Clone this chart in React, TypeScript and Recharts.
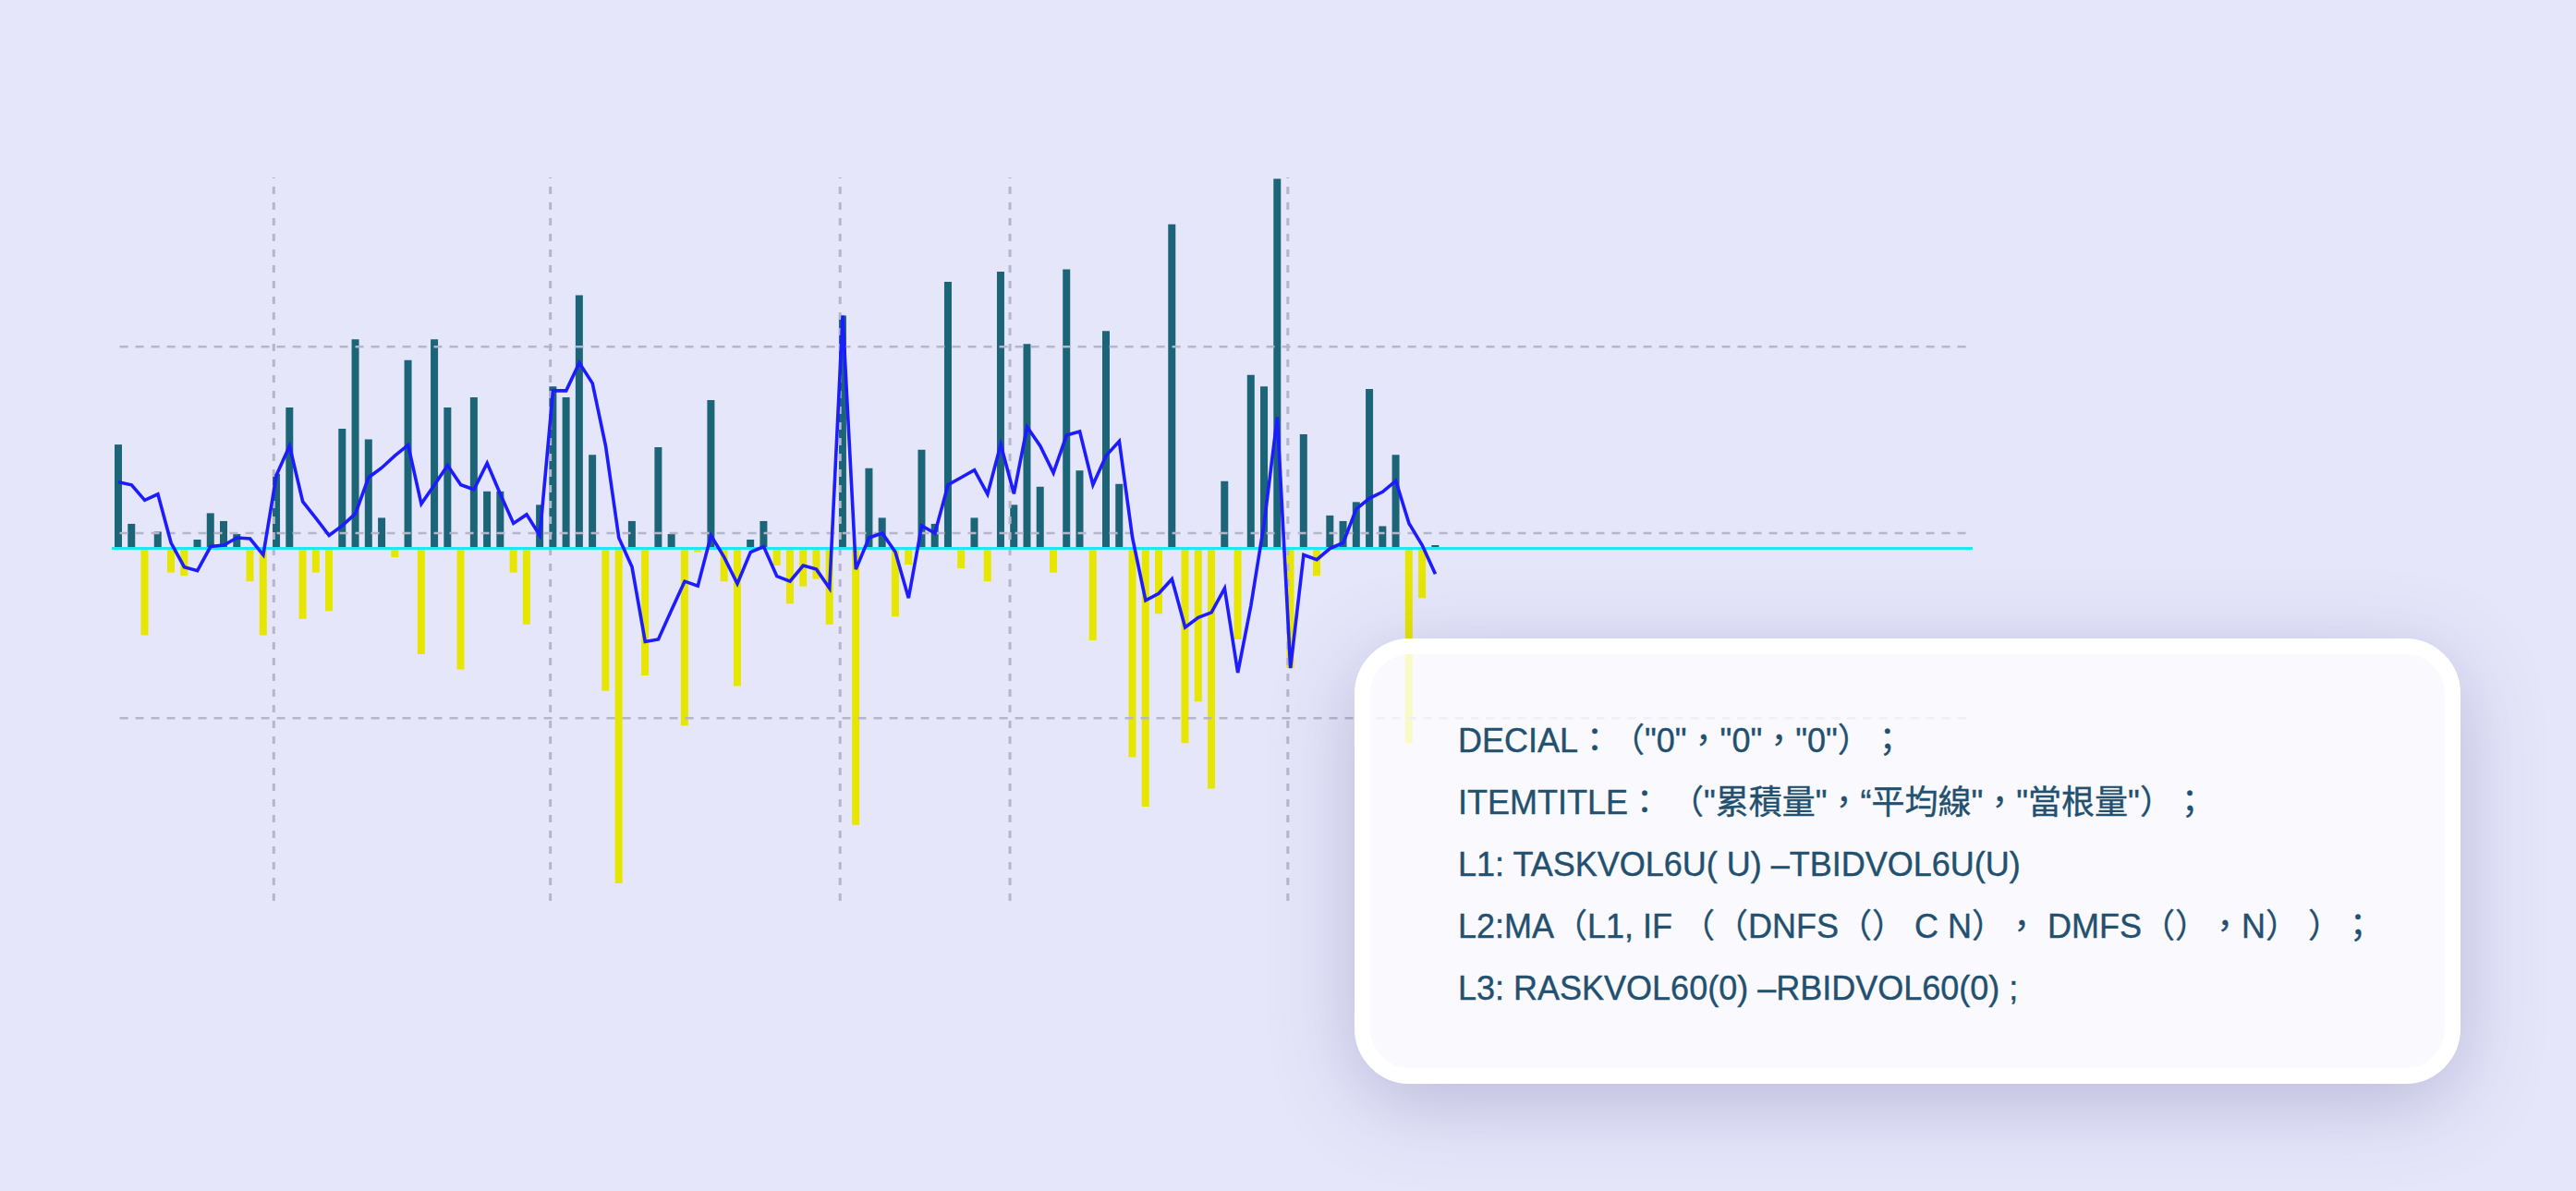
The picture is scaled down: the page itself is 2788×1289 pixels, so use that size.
import React from 'react';
import { ComposedChart, Bar, Line, XAxis, YAxis, ReferenceLine, Cell } from 'recharts';

// L3 當根量 (bar values, per slot)
const VOL: number[] = [
  224, 53, -187, 36, -52, -59, 19, 76, 59, 31,
  -71, -187, 161, 304, -152, -52, -135, 258, 451, 235,
  66, -19, 406, -228, 451, 304, -261, 326, 123, 123,
  -52, -164, 94, 349, 326, 546, 202, -307, -722, 59,
  -274, 218, 31, -382, -8, 320, -71, -297, 19, 59,
  -37, -119, -82, -66, -164, 502, -596, 173, 66, -147,
  -35, 213, 53, 575, -43, 66, -71, 597, 94, 441,
  133, -52, 602, 168, -198, 469, 139, -450, -557, -141,
  699, -420, -330, -518, 145, -196, 374, 349, 797, -258,
  246, -59, 71, 59, 100, 344, 48, 202, -420, -107,
  7,
];

// L2 平均線 (moving average line)
const MA: number[] = [
  143, 137, 104, 117, 12, -40, -48, 4, 7, 23,
  21, -14, 158, 221, 101, 65, 28, 49, 75, 153,
  174, 200, 223, 96, 137, 179, 137, 127, 184, 117,
  54, 73, 28, 340, 340, 400, 356, 221, 23, -40,
  -201, -196, -133, -71, -81, 28, -19, -76, -8, 4,
  -60, -71, -37, -45, -86, 502, -45, 23, 33, -8,
  -107, 49, 33, 137, 153, 169, 117, 224, 118, 262,
  221, 163, 244, 252, 137, 200, 231, 23, -112, -97,
  -66, -170, -149, -138, -86, -268, -123, 54, 283, -258,
  -14, -24, 0, 12, 85, 108, 122, 146, 54, 7,
  -55,
];

const X_DOMAIN: [number, number] = [-0.5, 140.8];
const Y_DOMAIN: [number, number] = [-760, 800];
const H_GRID: number[] = [435, 33, -366];
const H_GRID_SPAN: [number, number] = [0.1, 140.8];
const V_GRID: number[] = [11.8, 32.8, 54.8, 67.7, 88.8];

const FORMULA_LINES: string[] = [
  'DECIAL：（"0"，"0"，"0"）；',
  'ITEMTITLE： （"累積量"，“平均線"，"當根量"）；',
  'L1: TASKVOL6U( U) –TBIDVOL6U(U)',
  'L2:MA（L1, IF （（DNFS（） C N）， DMFS（），N） ）；',
  'L3: RASKVOL60(0) –RBIDVOL60(0) ;',
];

const TEAL = '#1b6577';
const YELLOW = '#e6e600';
const BLUE = '#1c1cff';
const CYAN = '#1ee6f2';
const GRID = '#b6b6cb';
const TEXT = '#23506f';

const data = VOL.map((v, i) => ({ i, vol: v, ma: MA[i] }));

export default function App() {
  return (
    <div
      style={{
        position: 'absolute',
        left: 0,
        top: 0,
        width: 2788,
        height: 1289,
        background: '#e6e6fa',
        overflow: 'hidden',
      }}
    >
      <ComposedChart
        width={2788}
        height={1289}
        data={data}
        margin={{ top: 192, right: 653, bottom: 314, left: 121 }}
      >
        <XAxis type="number" dataKey="i" domain={X_DOMAIN} hide allowDataOverflow />
        <YAxis type="number" domain={Y_DOMAIN} hide allowDataOverflow />
        {V_GRID.map((x) => (
          <ReferenceLine
            key={'v' + x}
            x={x}
            stroke={GRID}
            strokeWidth={3}
            strokeDasharray="8 9"
          />
        ))}
        {H_GRID.map((y) => (
          <ReferenceLine
            key={'h' + y}
            segment={[
              { x: H_GRID_SPAN[0], y },
              { x: H_GRID_SPAN[1], y },
            ]}
            stroke={GRID}
            strokeWidth={2.5}
            strokeDasharray="9 8"
          />
        ))}
        <Bar dataKey="vol" barSize={8} isAnimationActive={false}>
          {data.map((d) => (
            <Cell key={d.i} fill={d.vol >= 0 ? TEAL : YELLOW} />
          ))}
        </Bar>
        <ReferenceLine y={0} stroke={CYAN} strokeWidth={3} />
        <Line
          dataKey="ma"
          type="linear"
          stroke={BLUE}
          strokeWidth={3.6}
          strokeLinejoin="miter"
          dot={false}
          activeDot={false}
          isAnimationActive={false}
        />
      </ComposedChart>

      <div
        style={{
          position: 'absolute',
          left: 1466,
          top: 691,
          width: 1197,
          height: 482,
          boxSizing: 'border-box',
          border: '17px solid #ffffff',
          borderRadius: 60,
          background: 'rgba(255,255,255,0.78)',
          boxShadow: '0 20px 90px rgba(80,80,150,0.3)',
        }}
      >
        <div
          style={{
            position: 'absolute',
            left: 95,
            top: 60,
            fontFamily: '"Liberation Sans", "Noto Sans CJK TC", sans-serif',
            fontSize: 36,
            lineHeight: '67px',
            color: TEXT,
            whiteSpace: 'pre',
            textSpacingTrim: 'space-all',
            WebkitTextStroke: '0.4px ' + TEXT,
          } as React.CSSProperties}
        >
          {FORMULA_LINES.map((t, k) => (
            <div key={k}>{t}</div>
          ))}
        </div>
      </div>
    </div>
  );
}
